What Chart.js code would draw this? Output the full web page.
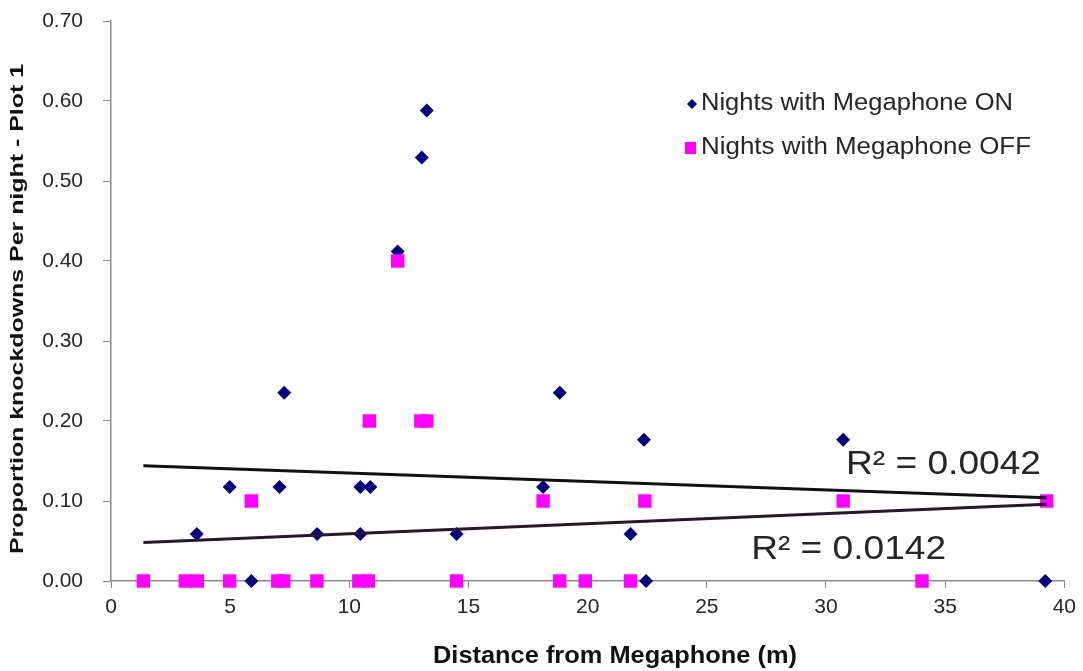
<!DOCTYPE html>
<html lang="en">
<head>
  <meta charset="UTF-8" />
  <title>Knockdowns vs distance from megaphone</title>
  <script src="https://cdn.jsdelivr.net/npm/chart.js"></script>
  <style>
    html, body { margin: 0; padding: 0; background: #fff; }
    #wrap { width: 1083px; height: 671px; position: relative; }
  </style>
</head>
<body>
  <div id="wrap"><canvas id="grafico"></canvas></div>

  <script>
    // values (proportions for ON look like n/17)
    const onX = [3.6, 4.98, 5.89, 7.07, 7.27, 8.65, 10.46, 10.46, 10.88, 12.03, 13.04, 13.25, 14.5, 18.13, 18.83, 21.8, 22.36, 22.45, 30.72, 39.2]
    const onY = [0.0588, 0.1176, 0, 0.1176, 0.2353, 0.0588, 0.0588, 0.1176, 0.1176, 0.4118, 0.5294, 0.5882, 0.0588, 0.1176, 0.2353, 0.0588, 0.1765, 0, 0.1765, 0]

    const offX = [1.36, 3.12, 3.62, 4.98, 5.89, 7.0, 7.25, 8.64, 10.4, 10.8, 10.84, 12.03, 13.0, 13.25, 14.5, 18.13, 18.83, 19.9, 21.8, 22.4, 30.72, 34.03, 39.26]
    const offY = [0, 0, 0, 0, 0.1, 0, 0, 0, 0, 0, 0.2, 0.4, 0.2, 0.2, 0, 0.1, 0, 0, 0, 0.1, 0.1, 0, 0.1]

    // trend line ends as drawn in the picture
    const trendOnX = [1.36, 39.26]
    const trendOnY = [0.144, 0.104]
    const trendOffX = [1.36, 39.26]
    const trendOffY = [0.048, 0.096]

    const r2Labels = ['R² = 0.0042', 'R² = 0.0142']
    const xTicks = [0, 5, 10, 15, 20, 25, 30, 35, 40]
    const yTicks = [0, 0.1, 0.2, 0.3, 0.4, 0.5, 0.6, 0.7]

    const pts = (xs, ys) => xs.map((x, i) => ({ x: x, y: ys[i] }))

    const FONT = "'Liberation Sans', Arial, sans-serif"
    const AXIS = '#8a8a8a'
    const TXT = '#262626'

    // the original's text is a bit stretched, so squeeze each string to the width it has there
    function stretchText(ctx, txt, x, y, w, align, rot) {
      const natural = ctx.measureText(txt).width
      ctx.save()
      ctx.translate(x, y)
      if (rot) ctx.rotate(rot)
      ctx.scale(w / natural, 1)
      ctx.textAlign = align
      ctx.fillText(txt, 0, 0)
      ctx.restore()
    }

    // legend, R² texts and axis titles drawn by hand so they sit where the original has them
    const extras = {
      id: 'extras',
      afterDraw(chart) {
        const ctx = chart.ctx
        const xs = chart.scales.x, ys = chart.scales.y
        ctx.save()
        ctx.textBaseline = 'middle'

        // legend
        const items = chart.data.datasets.filter(d => d.inLegend)
        ctx.font = `23px ${FONT}`
        const widths = [312, 330]
        items.forEach((d, i) => {
          const cy = 104 + i * 44
          ctx.fillStyle = d.backgroundColor
          if (d.pointStyle === 'rectRot') {
            ctx.beginPath()
            ctx.moveTo(692, cy - 5); ctx.lineTo(697, cy); ctx.lineTo(692, cy + 5); ctx.lineTo(687, cy)
            ctx.closePath(); ctx.fill()
          } else {
            ctx.fillRect(685, cy - 6, 11, 12)
          }
          ctx.fillStyle = TXT
          stretchText(ctx, d.label, 701, cy, widths[i], 'left')
        })

        // R² labels
        ctx.font = `34px ${FONT}`
        stretchText(ctx, r2Labels[0], xs.getPixelForValue(34.93), ys.getPixelForValue(0.146), 195, 'center')
        stretchText(ctx, r2Labels[1], xs.getPixelForValue(30.95), ys.getPixelForValue(0.039), 195, 'center')

        // axis titles
        ctx.fillStyle = '#111'
        ctx.font = `bold 24px ${FONT}`
        stretchText(ctx, 'Distance from Megaphone (m)', 615, 656, 364, 'center')
        ctx.font = `bold 18px ${FONT}`
        stretchText(ctx, 'Proportion knockdowns Per night - Plot 1', 18, 309, 490, 'center', -Math.PI / 2)
        ctx.restore()
      }
    }

    new Chart(document.getElementById('grafico'), {
      type: 'scatter',
      data: {
        datasets: [
          {
            type: 'line', label: 'trend ON', data: pts(trendOnX, trendOnY),
            borderColor: '#111111', borderWidth: 3, pointRadius: 0, order: 0
          },
          {
            type: 'line', label: 'trend OFF', data: pts(trendOffX, trendOffY),
            borderColor: '#2e1230', borderWidth: 3, pointRadius: 0, order: 0
          },
          {
            label: 'Nights with Megaphone ON', data: pts(onX, onY), inLegend: true,
            pointStyle: 'rectRot', pointRadius: 7, backgroundColor: '#000080', borderColor: '#000080',
            borderWidth: 0, order: 2, clip: false
          },
          {
            label: 'Nights with Megaphone OFF', data: pts(offX, offY), inLegend: true,
            pointStyle: 'rect', pointRadius: 9.5, backgroundColor: '#ff00ff', borderColor: '#ff00ff',
            borderWidth: 0, order: 1, clip: false
          }
        ]
      },
      options: {
        responsive: true,
        maintainAspectRatio: false,
        animation: false,
        layout: { padding: { left: 0, right: 17, top: 21, bottom: 0 } },
        plugins: { legend: { display: false }, tooltip: { enabled: false } },
        scales: {
          x: {
            type: 'linear', min: 0, max: 40,
            afterBuildTicks: s => { s.ticks = xTicks.map(v => ({ value: v })) },
            afterFit: s => { s.height = 90 },
            grid: { drawOnChartArea: false, drawTicks: true, tickLength: 7, tickColor: AXIS },
            border: { color: AXIS, width: 1.5 },
            ticks: { color: TXT, font: { family: FONT, size: 21 }, padding: 7 }
          },
          y: {
            min: 0, max: 0.7,
            afterBuildTicks: s => { s.ticks = yTicks.map(v => ({ value: v })) },
            afterFit: s => { s.width = 111; s.paddingTop = 0; s.paddingBottom = 0 },
            grid: { drawOnChartArea: false, drawTicks: true, tickLength: 8, tickColor: AXIS },
            border: { color: AXIS, width: 1.5 },
            ticks: {
              color: TXT, font: { family: FONT, size: 21 }, padding: 20,
              callback: v => v.toFixed(2)
            }
          }
        }
      },
      plugins: [extras]
    })
  </script>
</body>
</html>
